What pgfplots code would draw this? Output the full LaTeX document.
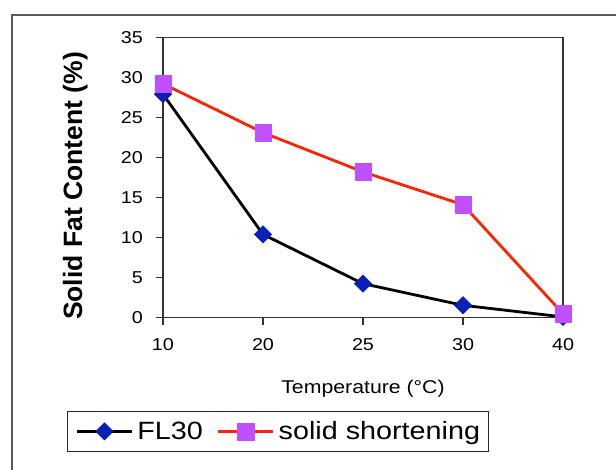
\documentclass[border=0pt]{standalone}
\usepackage{pgfplots}
\pgfplotsset{compat=1.18}
\usepackage{fontspec}
\setmainfont{Liberation Sans}[FakeStretch=1.15]
\newfontfamily\ylabfont{Liberation Sans}

\definecolor{fldiamond}{HTML}{0A1FB4}
\definecolor{sqviolet}{HTML}{C050FF}
\definecolor{lnred}{HTML}{FF2400}
\definecolor{axgray}{HTML}{333333}

\begin{document}
\begin{tikzpicture}[x=1pt,y=1pt]
\useasboundingbox (0,0) rectangle (616,-469);
\clip (0,0) rectangle (616,-469);
% outer chart frame (cut at right and bottom)
\draw[line width=1.3pt, black!65] (12,-480) -- (12,-15) -- (630,-15);

\begin{axis}[%
	at={(163pt,-317.7pt)}, anchor=south west,
	scale only axis,
	width=400pt, height=280.4pt,
	xmin=0, xmax=4,
	ymin=0, ymax=35,
	clip=false,
	xtick={0,1,2,3,4},
	xticklabels={10,20,25,30,40},
	ytick={0,5,...,35},
	xtick pos=left, ytick pos=left,
	tick align=outside,
	major tick length=7pt,
	axis line style={line width=1.3pt, axgray},
	every tick/.style={line width=1.2pt, axgray},
	/pgf/number format/assume math mode=true,
	yticklabel style={font=\fontsize{17.2}{19}\selectfont, anchor=east, inner sep=0pt},
	xticklabel style={font=\fontsize{17.2}{19}\selectfont, anchor=north, inner sep=0pt},
	yticklabel shift=13pt,
	xticklabel shift=13.5pt,
	xlabel={Temperature (°C)},
	xlabel style={font=\fontsize{18.5}{20}\selectfont, at={(axis description cs:0.5,-0.2686)}, anchor=base},
	ylabel={Solid Fat Content (\%)},
	ylabel style={font=\ylabfont\bfseries\fontsize{26.5}{30}\selectfont, at={(axis description cs:-0.2025,0.47)}, anchor=base},
	legend columns=-1,
	legend image code/.code={%
		\draw[mark repeat=2,mark phase=2,#1] plot coordinates {(0pt,0pt) (27.5pt,0pt) (55pt,0pt)};},
	legend style={at={(axis description cs:-0.24,-0.3327)}, anchor=north west,
		draw=black!85, line width=1.2pt, inner xsep=8pt, inner ysep=10pt,
		font=\fontsize{25}{28}\selectfont, nodes={inner sep=0pt},
		/tikz/every odd column/.append style={column sep=4pt},
		/tikz/every even column/.append style={column sep=14pt}},
	]

% FL30
\addplot[line width=2.8pt, black, line join=round, mark=square*, mark size=6.2pt,
	mark options={rotate=45, fill=fldiamond, draw=fldiamond, line width=0.4pt}]
	coordinates {
		(0,27.9)
		(1,10.4)
		(2,4.25)
		(3,1.55)
		(4,0.1)
	};

% solid shortening
\addplot[line width=2.8pt, lnred, line join=round, mark=square*, mark size=8.3pt,
	mark options={fill=sqviolet, draw=sqviolet, line width=0.4pt}]
	coordinates {
		(0,29.2)
		(1,23.1)
		(2,18.2)
		(3,14.1)
		(4,0.5)
	};

\legend{FL30, solid shortening}

\end{axis}
\end{tikzpicture}
\end{document}
